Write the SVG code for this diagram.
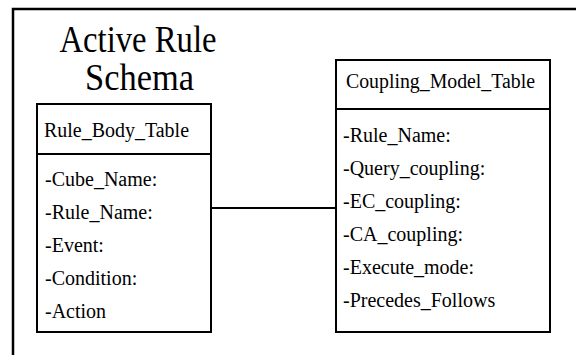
<svg xmlns="http://www.w3.org/2000/svg" width="576" height="355" viewBox="0 0 576 355">
<style>
.frame{fill:none;stroke:#000;stroke-width:2.5}
.box{fill:#fff;stroke:#000;stroke-width:2}
.t{font-family:"Liberation Serif","Times New Roman",serif;font-size:20px;fill:#000}
.title{font-family:"Liberation Serif","Times New Roman",serif;font-size:38px;fill:#000;text-anchor:middle}
.conn{stroke:#000;stroke-width:2;fill:none}
</style>
<rect width="576" height="355" fill="#fff"/>
<rect class="frame" x="13" y="9" width="600" height="400"/>
<g id="title">
<text class="title" x="138" y="52" textLength="157" lengthAdjust="spacingAndGlyphs">Active Rule</text>
<text class="title" x="139.5" y="90" textLength="109" lengthAdjust="spacingAndGlyphs">Schema</text>
</g>
<g id="connectors">
<line class="conn" x1="211" y1="208" x2="336" y2="208"/>
</g>
<g id="rule_body_table">
<rect class="box" x="37" y="104" width="174" height="228"/>
<line class="conn" x1="37" y1="154" x2="211" y2="154"/>
<text class="t" x="44" y="137" textLength="145" lengthAdjust="spacingAndGlyphs">Rule_Body_Table</text>
<text class="t" x="45" y="186">-Cube_Name:</text>
<text class="t" x="45" y="219">-Rule_Name:</text>
<text class="t" x="45" y="252">-Event:</text>
<text class="t" x="45" y="285">-Condition:</text>
<text class="t" x="45" y="318">-Action</text>
</g>
<g id="coupling_model_table">
<rect class="box" x="336" y="60" width="214" height="272"/>
<line class="conn" x1="336" y1="109" x2="550" y2="109"/>
<text class="t" x="346" y="88" textLength="189" lengthAdjust="spacingAndGlyphs">Coupling_Model_Table</text>
<text class="t" x="343" y="142">-Rule_Name:</text>
<text class="t" x="343" y="175">-Query_coupling:</text>
<text class="t" x="343" y="208">-EC_coupling:</text>
<text class="t" x="343" y="241">-CA_coupling:</text>
<text class="t" x="343" y="274">-Execute_mode:</text>
<text class="t" x="343" y="307">-Precedes_Follows</text>
</g>
</svg>
